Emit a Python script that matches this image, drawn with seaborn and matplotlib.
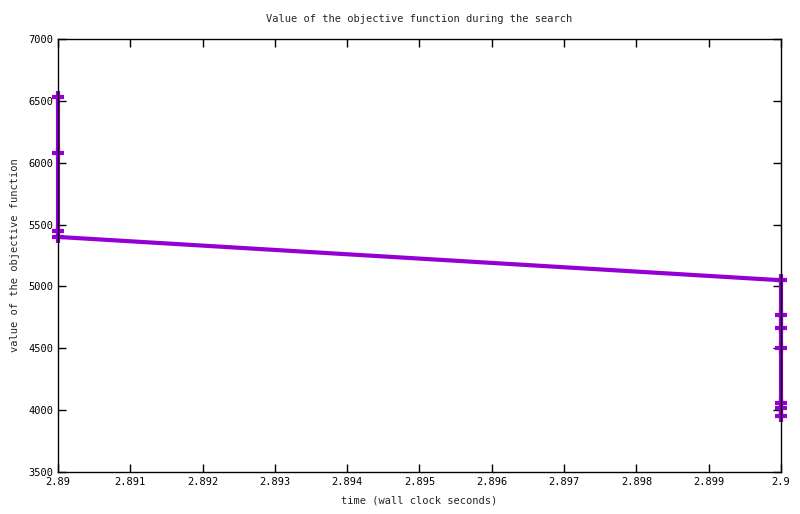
import pandas as pd
import numpy as np
import matplotlib.pyplot as plt
import matplotlib.ticker as plticker
import seaborn as sb

# objective value recorded during the search
times = [2.89, 2.89, 2.89, 2.89, 2.9, 2.9, 2.9, 2.9, 2.9, 2.9, 2.9]
values = [6530, 6080, 5450, 5400, 5050, 4770, 4660, 4500, 4060, 4020, 3950]

myData = pd.DataFrame({'time': times, 'value': values})

sb.set_style('ticks')
plt.rcParams['font.family'] = ['DejaVu Sans Mono']

fig = plt.figure(figsize=(8, 5.14), dpi=100)
ax = fig.add_axes([58 / 800, 1 - 472 / 514, (781 - 58) / 800, (472 - 39) / 514])

sb.lineplot(x='time', y='value', data=myData, sort=False, estimator=None,
            color='#9400D3', linewidth=3, marker='+', markersize=8,
            markeredgewidth=3, markeredgecolor='#9400D3', ax=ax)
for ln in ax.lines:
    ln.set_clip_on(False)

ax.set(xlim=(2.89, 2.9), ylim=(3500, 7000))
ax.xaxis.set_major_locator(plticker.FixedLocator(np.round(np.arange(2.89, 2.9005, 0.001), 3)))
ax.xaxis.set_major_formatter(plticker.FuncFormatter(lambda v, p: ('%.3f' % v).rstrip('0')))
ax.yaxis.set_major_locator(plticker.MultipleLocator(500))
ax.tick_params(direction='in', top=True, right=True, length=6, width=1,
               labelsize=7.5, colors='black')
for s in ax.spines.values():
    s.set_linewidth(1)
    s.set_color('black')

ax.set_title('Value of the objective function during the search', fontsize=7.5, pad=12)
ax.set_xlabel('time (wall clock seconds)', fontsize=7.5, labelpad=6)
ax.set_ylabel('value of the objective function', fontsize=7.5, labelpad=6)

fig.savefig('out.png', dpi=100)
